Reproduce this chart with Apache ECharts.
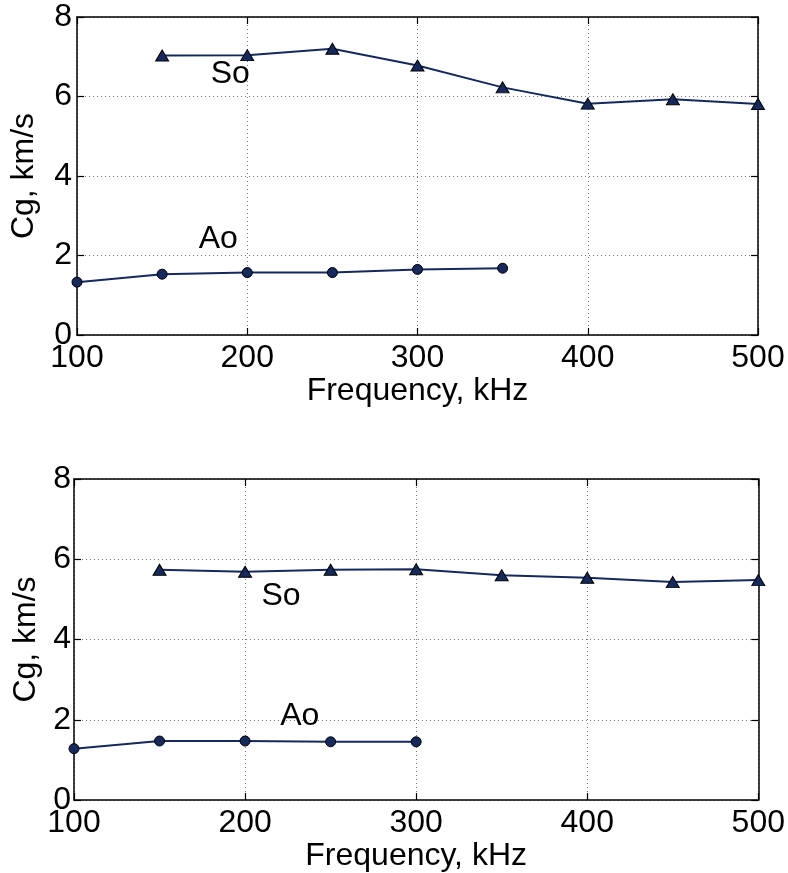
<!DOCTYPE html>
<html>
<head>
<meta charset="utf-8">
<script src="https://cdn.jsdelivr.net/npm/echarts@6/dist/echarts.min.js"></script>
<style>
  html, body { margin: 0; padding: 0; background: #fff; }
  #chart { width: 788px; height: 873px; }
</style>
</head>
<body>
<div id="chart"></div>
<script>
// frequencies, kHz
var freq = [100, 150, 200, 250, 300, 350, 400, 450, 500]
// upper plot
var topSo = [null, 7.03, 7.04, 7.2, 6.78, 6.23, 5.82, 5.93, 5.81]
var topAo = [1.33, 1.53, 1.57, 1.57, 1.65, 1.68]
// lower plot
var bottomSo = [null, 5.74, 5.69, 5.74, 5.75, 5.6, 5.54, 5.43, 5.48]
var bottomAo = [1.28, 1.47, 1.47, 1.45, 1.45]
// mode labels, [freq, Cg]
var topSoLabel = [190, 6.57]
var topAoLabel = [183, 2.42]
var bottomSoLabel = [221, 5.07]
var bottomAoLabel = [232, 2.08]

var xTicks = [100, 200, 300, 400, 500]
var yTicks = [0, 2, 4, 6, 8]

var FONT = 'Liberation Sans, Arial, sans-serif'
var FS = 32
var NAVY = '#15295c'

function pairs(vals) {
  var out = []
  vals.forEach(function (v, i) {
    if (v !== null) out.push([freq[i], v])
  })
  return out
}

function xAxisFor(idx, bottomSide, gap) {
  var common = {
    type: 'value',
    gridIndex: idx,
    min: xTicks[0],
    max: xTicks[xTicks.length - 1],
    interval: 100,
    axisLine: { show: true, onZero: false, lineStyle: { color: '#000', width: 1.5 } },
    axisTick: { show: true, inside: true, length: 7, lineStyle: { color: '#000', width: 1.2 } }
  }
  if (bottomSide) {
    return Object.assign(common, {
      position: 'bottom',
      name: 'Frequency, kHz',
      nameLocation: 'middle',
      nameGap: gap,
      nameTextStyle: { color: '#000', fontSize: FS, fontFamily: FONT },
      axisLabel: { color: '#000', fontSize: FS, fontFamily: FONT, margin: 7 },
      splitLine: { show: true, lineStyle: { color: '#777', type: [1, 3], width: 1 } }
    })
  }
  return Object.assign(common, {
    position: 'top',
    axisLabel: { show: false },
    splitLine: { show: false }
  })
}

function yAxisFor(idx, leftSide, gap, margin) {
  var common = {
    type: 'value',
    gridIndex: idx,
    min: yTicks[0],
    max: yTicks[yTicks.length - 1],
    interval: 2,
    axisLine: { show: true, onZero: false, lineStyle: { color: '#000', width: 1.5 } },
    axisTick: { show: true, inside: true, length: 7, lineStyle: { color: '#000', width: 1.2 } }
  }
  if (leftSide) {
    return Object.assign(common, {
      position: 'left',
      name: 'Cg, km/s',
      nameLocation: 'middle',
      nameGap: gap,
      nameRotate: 90,
      nameTextStyle: { color: '#000', fontSize: FS, fontFamily: FONT },
      axisLabel: { color: '#000', fontSize: FS, fontFamily: FONT, margin: margin },
      splitLine: { show: true, lineStyle: { color: '#777', type: [1, 3], width: 1 } }
    })
  }
  return Object.assign(common, {
    position: 'right',
    axisLabel: { show: false },
    splitLine: { show: false }
  })
}

function lineSeries(axisIdx, data, symbol, size, labelText, labelAt) {
  var s = {
    type: 'line',
    xAxisIndex: axisIdx,
    yAxisIndex: axisIdx,
    data: pairs(data),
    symbol: symbol,
    symbolSize: size,
    showAllSymbol: true,
    clip: false,
    lineStyle: { color: NAVY, width: 2 },
    itemStyle: { color: NAVY, borderColor: '#000', borderWidth: 1 },
    z: 3
  }
  if (labelText) {
    s.markPoint = {
      symbol: 'circle',
      symbolSize: 0,
      data: [{ coord: labelAt, value: labelText }],
      label: {
        show: true,
        position: 'inside',
        formatter: labelText,
        color: '#000',
        fontSize: FS,
        fontFamily: FONT
      }
    }
  }
  return s
}

var chart = echarts.init(document.getElementById('chart'), null, { renderer: 'canvas' })

var option = {
  backgroundColor: '#fff',
  animation: false,
  grid: [
    { left: 77, right: 30, top: 17, height: 318, containLabel: false },
    { left: 74, right: 27, top: 479, height: 321, containLabel: false }
  ],
  xAxis: [
    xAxisFor(0, true, 33),
    xAxisFor(1, true, 28),
    xAxisFor(0, false),
    xAxisFor(1, false)
  ],
  yAxis: [
    yAxisFor(0, true, 37, 5),
    yAxisFor(1, true, 30, 3),
    yAxisFor(0, false),
    yAxisFor(1, false)
  ],
  series: [
    lineSeries(0, topSo, 'triangle', [13, 11], 'So', topSoLabel),
    lineSeries(0, topAo, 'circle', 10, 'Ao', topAoLabel),
    lineSeries(1, bottomSo, 'triangle', [13, 11], 'So', bottomSoLabel),
    lineSeries(1, bottomAo, 'circle', 10, 'Ao', bottomAoLabel)
  ]
}

chart.setOption(option)
</script>
</body>
</html>
